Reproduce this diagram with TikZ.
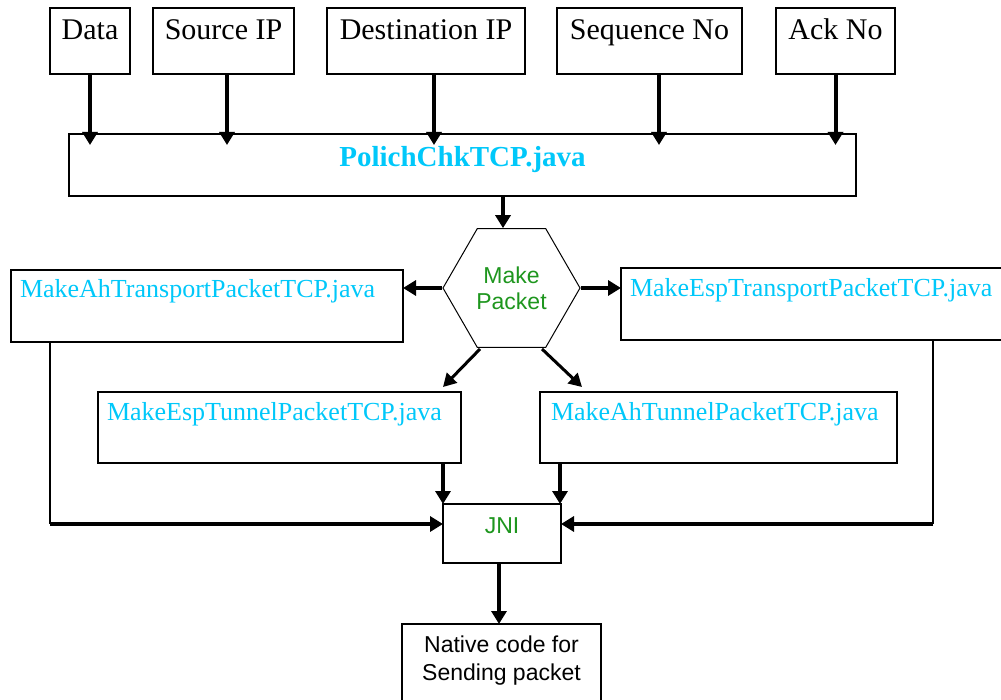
\documentclass[tikz,border=0pt]{standalone}
\usepackage{fontspec}
\setmainfont{Liberation Serif}
\newfontfamily\sansfam{Liberation Sans}
\usetikzlibrary{arrows.meta,shapes.geometric,calc}
\definecolor{javacyan}{RGB}{0,200,250}
\definecolor{nodegreen}{RGB}{30,150,30}
\begin{document}
\begin{tikzpicture}[x=1pt,y=-1pt,
  box/.style={draw, line width=1.6pt, inner sep=0pt, outer sep=0pt, anchor=north west},
  field/.style={box, font=\fontsize{30}{36}\selectfont, text height=32pt, text depth=34pt},
  javabox/.style={box, font=\fontsize{26}{31}\selectfont, text=javacyan, align=left},
  arr/.style={-{Triangle[length=13pt,width=15pt]}, line width=4pt},
  diagarr/.style={-{Triangle[length=13pt,width=14pt]}, line width=3pt},
  sidearr/.style={-{Triangle[length=13pt,width=15pt]}, line width=4.5pt},
  thinline/.style={line width=2pt}]
  \useasboundingbox (0,0) rectangle (1001,700);
  \fill[white] (0,0) rectangle (1001,700);
  \clip (0,0) rectangle (1001,700);

  % input fields
  \node[field, minimum width=80pt]  (data)  at (50,8)  {Data};
  \node[field, minimum width=141pt] (srcip) at (153,8) {Source IP};
  \node[field, minimum width=198pt] (dstip) at (327,8) {Destination IP};
  \node[field, minimum width=185pt] (seqno) at (557,8) {Sequence No};
  \node[field, minimum width=119pt] (ackno) at (776,8) {Ack No};

  % policy check
  \node[box, minimum width=787pt, text height=33pt, text depth=29pt,
        font=\bfseries\fontsize{29}{34}\selectfont, text=javacyan] (poli) at (69,134) {PolichChkTCP.java};

  % packet maker
  \node[draw, line width=1pt, regular polygon, regular polygon sides=6, minimum size=137pt,
        inner sep=0pt, font=\sansfam\fontsize{23}{26}\selectfont, text=nodegreen, align=center]
        (hex) at (511.5,288) {Make\\Packet};

  % packet builders
  \node[javabox, inner xsep=9pt, text width=374pt, text height=28pt, text depth=44pt] (ahtr) at (11,270) {MakeAhTransportPacketTCP.java};
  \node[javabox, inner xsep=9pt, text width=382pt, text height=29pt, text depth=43pt] (esptr) at (621,268) {MakeEspTransportPacketTCP.java};
  \node[javabox, inner xsep=9pt, text width=345pt, text height=28pt, text depth=43pt] (esptun) at (98,392) {MakeEspTunnelPacketTCP.java};
  \node[javabox, inner xsep=11pt, text width=335pt, text height=28pt, text depth=43pt] (ahtun) at (540,392) {MakeAhTunnelPacketTCP.java};

  % JNI and native layer
  \node[box, minimum width=118pt, text height=29pt, text depth=30pt,
        font=\sansfam\fontsize{23}{26}\selectfont, text=nodegreen] (jni) at (443,504) {JNI};
  \node[box, minimum width=199pt, minimum height=90pt] (native) at (402,624) {};
  \node[anchor=north, inner sep=0pt, font=\sansfam\fontsize{23}{28}\selectfont, align=center]
        (nativetext) at ([yshift=-12pt]native.north) {Native code for\\Sending packet};

  % fields into policy check
  \draw[arr, shorten >=-11pt] (data.south) -- (data.south |- poli.north);
  \draw[arr, shorten >=-11pt] ([xshift=3.5pt]srcip.south) -- ([xshift=3.5pt]srcip.south |- poli.north);
  \draw[arr, shorten >=-11pt] ([xshift=8pt]dstip.south) -- ([xshift=8pt]dstip.south |- poli.north);
  \draw[arr, shorten >=-11pt] ([xshift=9.5pt]seqno.south) -- ([xshift=9.5pt]seqno.south |- poli.north);
  \draw[arr, shorten >=-11pt] (ackno.south) -- (ackno.south |- poli.north);

  % policy check to packet maker
  \draw[arr] ([xshift=-8.5pt]hex.north |- poli.south) -- ([xshift=-8.5pt]hex.north);

  % packet maker to builders
  \draw[sidearr] (hex.west) -- (hex.west -| ahtr.east);
  \draw[sidearr] (hex.east) -- (hex.east -| esptr.west);
  \draw[diagarr] ($(hex.center)+(-31.5,61)$) -- ($(esptun.north west)+(345,-5)$);
  \draw[diagarr] ($(hex.center)+(30.5,61)$) -- ($(ahtun.north west)+(42,-5)$);

  % builders into JNI
  \draw[arr] (jni.north west |- esptun.south) -- (jni.north west);
  \draw[arr] ([xshift=-1pt]jni.north east |- ahtun.south) -- ([xshift=-1pt]jni.north east);
  \coordinate (lbend) at (50,524);
  \coordinate (rbend) at (933,524);
  \draw[thinline] (lbend |- ahtr.south) -- (lbend);
  \draw[sidearr] (lbend) -- (lbend -| jni.west);
  \draw[thinline] (rbend |- esptr.south) -- (rbend);
  \draw[sidearr] (rbend) -- (rbend -| jni.east);

  % JNI to native code
  \draw[arr] ([xshift=-3pt]jni.south) -- ([xshift=-3pt]jni.south |- native.north);
\end{tikzpicture}
\end{document}
